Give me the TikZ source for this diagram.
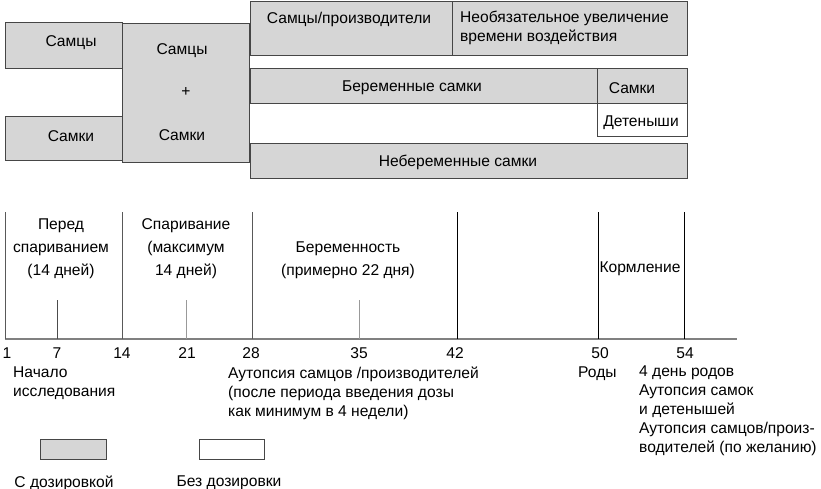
\documentclass[tikz,border=0pt]{standalone}
\usepackage{fontspec}
\setmainfont{Liberation Sans}
\usetikzlibrary{positioning}
\definecolor{dosefill}{RGB}{214,214,214}
\definecolor{boxline}{RGB}{70,70,70}

\begin{document}
\begin{tikzpicture}[x=1pt,y=-1pt,
  dosed/.style={draw=boxline,fill=dosefill,line width=1pt},
  undosed/.style={draw=boxline,fill=white,line width=1pt},
  lbl/.style={font=\fontsize{15.6}{19.5}\selectfont,inner sep=0pt},
  period/.style={lbl,align=center,font=\fontsize{15.6}{23}\selectfont},
  note/.style={lbl,align=left,anchor=north west,font=\fontsize{15.6}{19}\selectfont},
  phase/.style={line width=1pt},
  tick/.style={line width=0.8pt}]
\useasboundingbox (0,0) rectangle (821,489);

% Groups before mating
\draw[dosed] (5,23) rectangle (122,69);
\node[lbl] (malesPre) at (71,43) {Самцы};
\draw[dosed] (5,117) rectangle (122,161);
\node[lbl] (femalesPre) at (71,136) {Самки};

% Mating pairs
\draw[dosed] (122,24) rectangle (249,163);
\node[lbl] (pairMales) at (182,51) {Самцы};
\node[lbl] (pairPlus) at (186,92) {+};
\node[lbl] (pairFemales) at (182,135) {Самки};

% After mating
\draw[dosed] (250,2) rectangle (687,56);
\draw[boxline,line width=1pt] (452,2) -- (452,56);
\node[lbl] (sires) at (349,19) {Самцы/производители};
\node[lbl,align=left,anchor=west] (extension) at (460,28) {Необязательное увеличение\\времени воздействия};

\draw[dosed] (250,69) rectangle (597,104);
\node[lbl] (pregnant) at (412,88) {Беременные самки};
\draw[dosed] (597,69) rectangle (687,104);
\node[lbl] (dams) at (632,88) {Самки};
\draw[undosed] (597,104) rectangle (687,137);
\node[lbl] (pups) at (641,123) {Детеныши};

\draw[dosed] (250,144) rectangle (687,179);
\node[lbl] (nonpregnant) at (458,162) {Небеременные самки};

% Time axis
\draw[gray,line width=1.5pt] (5,339) -- (737,339);
\foreach \x in {5,122,252}
  \draw[phase,black!65] (\x,212) -- (\x,339);
\foreach \x in {457,598,684}
  \draw[phase,black] (\x,212) -- (\x,339);
\draw[tick,black!70] (57,300) -- (57,339);
\foreach \x in {186,359}
  \draw[tick,black!40] (\x,300) -- (\x,339);

\foreach \x/\d in {7/1,57/7,122/14,187/21,251/28,359/35,455/42,600/50,685/54}
  \node[lbl] (day\d) at (\x,353) {\d};

% Phases
\node[period] (premating) at (61,249) {Перед\\спариванием\\(14 дней)};
\node[period] (mating) at (186,249) {Спаривание\\(максимум\\14 дней)};
\node[period] (gestation) at (348,260) {Беременность\\(примерно 22 дня)};
\node[lbl] (lactation) at (640,269) {Кормление};

% Events
\node[note] (startStudy) at (13,367) {Начало\\исследования};
\node[note] (sireNecropsy) at (228,367) {Аутопсия самцов /производителей\\(после периода введения дозы\\как минимум в 4 недели)};
\node[note] (birth) at (578,367) {Роды};
\node[note] (pnd4) at (639,366) {4 день родов\\Аутопсия самок\\и детенышей\\Аутопсия самцов/произ-\\водителей (по желанию)};

% Legend
\draw[dosed] (40,439) rectangle (106,459);
\node[lbl] (doseLabel) at (64,483) {С дозировкой};
\draw[undosed] (199,439) rectangle (264,459);
\node[lbl] (noDoseLabel) at (229,483) {Без дозировки};
\end{tikzpicture}
\end{document}
